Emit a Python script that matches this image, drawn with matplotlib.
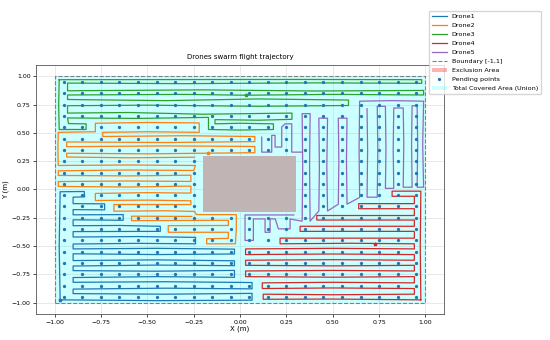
import numpy as np
import matplotlib.pyplot as plt
from matplotlib.patches import Rectangle, Patch
from matplotlib.lines import Line2D

# waypoints (x, y) in metres
drone1 = [(-0.97, -0.975), (-0.975, -0.5), (-0.97, -0.02), (-0.84, -0.018), (-0.838, -0.065),
          (-0.9, -0.068), (-0.9, -0.125), (-0.73, -0.127), (-0.73, -0.18), (-0.9, -0.178),
          (-0.9, -0.224), (-0.63, -0.222), (-0.63, -0.272), (-0.9, -0.268), (-0.9, -0.32),
          (-0.65, -0.318), (-0.43, -0.325), (-0.43, -0.37), (-0.9, -0.372), (-0.9, -0.42),
          (-0.55, -0.416), (-0.24, -0.423), (-0.24, -0.48), (-0.55, -0.476), (-0.9, -0.482),
          (-0.9, -0.525), (-0.45, -0.52), (-0.03, -0.527), (-0.03, -0.57), (-0.45, -0.575),
          (-0.9, -0.568), (-0.9, -0.628), (-0.45, -0.622), (-0.03, -0.63), (-0.03, -0.673),
          (-0.45, -0.668), (-0.9, -0.676), (-0.9, -0.717), (-0.45, -0.722), (-0.03, -0.715),
          (-0.03, -0.776), (-0.45, -0.77), (-0.9, -0.778), (-0.9, -0.82), (-0.4, -0.815),
          (0.065, -0.822), (0.065, -0.878), (-0.4, -0.872), (-0.9, -0.88), (-0.9, -0.92),
          (-0.4, -0.925), (0.065, -0.918), (0.065, -0.978), (-0.45, -0.982), (-0.97, -0.975)]

drone2 = [(-0.245, 0.285), (-0.6, 0.28), (-0.935, 0.287), (-0.935, 0.32), (-0.5, 0.315),
          (0.08, 0.325), (0.08, 0.38), (-0.4, 0.385), (-0.935, 0.378), (-0.935, 0.42),
          (-0.4, 0.415), (0.08, 0.423), (0.08, 0.468), (-0.3, 0.475), (-0.74, 0.468),
          (-0.74, 0.505), (-0.5, 0.51), (-0.22, 0.505), (-0.22, 0.588), (-0.5, 0.592),
          (-0.78, 0.585), (-0.78, 0.51), (-0.98, 0.505), (-0.982, 0.35), (-0.98, 0.212),
          (-0.6, 0.216), (-0.24, 0.212), (-0.25, 0.168), (-0.6, 0.172), (-0.98, 0.165),
          (-0.98, 0.124), (-0.6, 0.12), (-0.265, 0.126), (-0.265, 0.071), (-0.6, 0.075),
          (-0.98, 0.07), (-0.98, 0.027), (-0.6, 0.022), (-0.265, 0.03), (-0.265, -0.032),
          (-0.5, -0.028), (-0.78, -0.035), (-0.78, -0.097), (-0.5, -0.094), (-0.265, -0.1),
          (-0.265, -0.133), (-0.68, -0.133), (-0.68, -0.192), (-0.4, -0.188), (-0.245, -0.194),
          (-0.235, -0.222), (-0.02, -0.222), (-0.02, -0.35), (-0.025, -0.48), (-0.18, -0.48),
          (-0.18, -0.435), (-0.063, -0.432), (-0.063, -0.378), (-0.387, -0.378), (-0.387, -0.32),
          (-0.063, -0.318), (-0.063, -0.272), (-0.585, -0.275), (-0.585, -0.236), (-0.26, -0.238)]

drone3 = [(-0.975, 0.97), (-0.978, 0.75), (-0.975, 0.53), (-0.83, 0.53), (-0.83, 0.58),
          (-0.925, 0.582), (-0.93, 0.632), (-0.55, 0.628), (-0.17, 0.637), (-0.17, 0.53),
          (0.0, 0.525), (0.18, 0.53), (0.18, 0.58), (0.0, 0.585), (-0.135, 0.58),
          (-0.135, 0.617), (0.1, 0.612), (0.28, 0.62), (0.28, 0.675), (-0.2, 0.665),
          (-0.6, 0.68), (-0.93, 0.675), (-0.93, 0.74), (-0.5, 0.745), (0.1, 0.735),
          (0.585, 0.742), (0.585, 0.79), (0.1, 0.80), (-0.4, 0.785), (-0.93, 0.795),
          (-0.93, 0.835), (-0.3, 0.84), (0.03, 0.833), (0.5, 0.84), (0.99, 0.835),
          (0.99, 0.875), (0.4, 0.87), (-0.2, 0.88), (-0.93, 0.872), (-0.93, 0.94),
          (-0.3, 0.935), (0.4, 0.942), (0.98, 0.938), (0.98, 0.97), (0.3, 0.972),
          (-0.975, 0.97)]

drone4 = [(0.975, -0.975), (0.972, -0.5), (0.975, -0.015), (0.82, -0.015), (0.82, -0.06),
          (0.94, -0.06), (0.94, -0.125), (0.64, -0.125), (0.64, -0.17), (0.94, -0.17),
          (0.94, -0.23), (0.414, -0.23), (0.414, -0.27), (0.94, -0.27), (0.94, -0.325),
          (0.324, -0.325), (0.324, -0.37), (0.94, -0.37), (0.94, -0.43), (0.216, -0.43),
          (0.216, -0.48), (0.6, -0.475), (0.94, -0.48), (0.94, -0.525), (0.5, -0.52),
          (0.03, -0.525), (0.03, -0.575), (0.5, -0.57), (0.94, -0.575), (0.94, -0.625),
          (0.5, -0.62), (0.03, -0.625), (0.03, -0.67), (0.5, -0.675), (0.94, -0.67),
          (0.94, -0.72), (0.5, -0.715), (0.03, -0.72), (0.03, -0.77), (0.5, -0.775),
          (0.94, -0.77), (0.94, -0.825), (0.5, -0.82), (0.12, -0.825), (0.12, -0.875),
          (0.5, -0.87), (0.94, -0.875), (0.94, -0.925), (0.5, -0.93), (0.125, -0.925),
          (0.125, -0.97), (0.5, -0.968), (0.975, -0.975)]

drone5 = [(0.29, -0.225), (0.027, -0.225), (0.027, -0.45), (0.072, -0.45), (0.072, -0.26),
          (0.135, -0.26), (0.135, -0.378), (0.162, -0.378), (0.162, -0.26), (0.19, -0.26),
          (0.207, -0.348), (0.27, -0.348), (0.27, -0.26), (0.30, -0.27), (0.335, -0.28),
          (0.338, 0.2), (0.335, 0.67), (0.378, 0.67), (0.375, 0.2), (0.378, -0.28),
          (0.425, -0.19), (0.428, 0.2), (0.425, 0.63), (0.472, 0.63), (0.468, 0.2),
          (0.472, -0.19), (0.53, -0.13), (0.533, 0.25), (0.53, 0.63), (0.577, 0.63),
          (0.574, 0.25), (0.577, -0.13), (0.645, -0.07), (0.642, 0.35), (0.645, 0.78),
          (0.82, 0.785), (0.99, 0.78), (0.985, 0.4), (0.99, 0.02), (0.955, 0.02),
          (0.958, 0.4), (0.955, 0.74), (0.928, 0.74), (0.925, 0.4), (0.928, 0.02),
          (0.88, 0.02), (0.883, 0.4), (0.88, 0.72), (0.829, 0.72), (0.826, 0.35),
          (0.829, 0.01), (0.784, 0.01), (0.787, 0.35), (0.784, 0.735), (0.74, 0.735),
          (0.743, 0.35), (0.74, -0.068), (0.685, -0.068), (0.688, 0.35), (0.685, 0.714),
          (np.nan, np.nan),
          (0.117, 0.463), (0.117, 0.33), (0.171, 0.33), (0.171, 0.478), (0.189, 0.478),
          (0.189, 0.375), (0.225, 0.375), (0.225, 0.552), (0.243, 0.58), (0.279, 0.58),
          (0.279, 0.33), (0.335, 0.33)]

drones = [drone1, drone2, drone3, drone4, drone5]
names = ["Drone1", "Drone2", "Drone3", "Drone4", "Drone5"]
colors = ["tab:blue", "tab:orange", "tab:green", "tab:red", "tab:purple"]
# current drone positions (small markers)
pos_x = [-0.97, -0.17, 0.03, 0.73]
pos_y = [-0.975, 0.322, 0.833, -0.478]

# exclusion rectangle and grid of pending points
excl_x = [-0.2, 0.3]
excl_y = [-0.2, 0.3]
grid_vals = np.arange(-0.95, 1.0, 0.1)

fig = plt.figure(figsize=(5.5, 3.4), dpi=100)
ax = fig.add_axes([0.0655, 0.0765, 0.7418, 0.7324])

# covered area and exclusion
ax.add_patch(Rectangle((-1, -1), 2, 2, facecolor="cyan", alpha=0.2, edgecolor="none", zorder=1))
ax.add_patch(Rectangle((excl_x[0], excl_y[0]), excl_x[1] - excl_x[0], excl_y[1] - excl_y[0],
                       facecolor="#c0b4b4", edgecolor="none", zorder=1.5))

# boundary
ax.plot([-1, 1, 1, -1, -1], [-1, -1, 1, 1, -1], "--", color="gray", lw=0.8, zorder=2)

# pending points
gx, gy = np.meshgrid(grid_vals, grid_vals)
gx, gy = gx.ravel(), gy.ravel()
inside = (gx > excl_x[0]) & (gx < excl_x[1]) & (gy > excl_y[0]) & (gy < excl_y[1])
ax.plot(gx[~inside], gy[~inside], ".", color="tab:blue", ms=2.7, zorder=4)

for path, name, c in zip(drones, names, colors):
    xs = [p[0] for p in path]
    ys = [p[1] for p in path]
    ax.plot(xs, ys, color=c, lw=0.9, zorder=3, label=name)
for x, y, c in zip(pos_x, pos_y, colors):
    ax.plot(x, y, "*", color=c, ms=2.5, zorder=5)

ax.set_xlim(-1.1, 1.1)
ax.set_ylim(-1.1, 1.1)
ax.set_xticks(np.arange(-1, 1.01, 0.25))
ax.set_yticks(np.arange(-1, 1.01, 0.25))
ax.tick_params(labelsize=4.5, length=2, width=0.5, pad=2)
ax.grid(True, color="#e0e0e0", lw=0.5)
ax.set_axisbelow(True)
for s in ax.spines.values():
    s.set_linewidth(0.6)
    s.set_color("#555555")
ax.set_title("Drones swarm flight trajectory", fontsize=5, pad=4)
ax.set_xlabel("X (m)", fontsize=5, labelpad=1)
ax.set_ylabel("Y (m)", fontsize=5, labelpad=2)

handles = [Line2D([], [], color=c, lw=0.9) for c in colors]
handles += [Line2D([], [], ls="--", color="gray", lw=0.8),
            Patch(facecolor="red", alpha=0.3),
            Line2D([], [], ls="", marker=".", color="tab:blue", ms=2.7),
            Patch(facecolor="cyan", alpha=0.2)]
labels = names + ["Boundary [-1,1]", "Exclusion Area", "Pending points", "Total Covered Area (Union)"]
fig.legend(handles, labels, loc="upper right", bbox_to_anchor=(0.99, 0.978), fontsize=4.6,
           frameon=True, handlelength=2.3, borderpad=0.5, labelspacing=0.55)

fig.savefig("out.png", dpi=100)
